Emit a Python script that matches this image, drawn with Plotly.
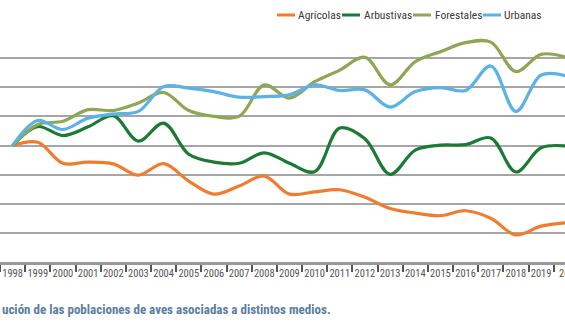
import plotly.graph_objects as go

years = [str(y) for y in range(1998, 2021)]
agricolas = [100, 101.1, 93.9, 94.3, 93.7, 89.8, 93.8, 87.8, 83.3, 86.1, 89.5, 83.3, 84.1, 84.8, 82.2,
             78.4, 76.8, 75.9, 77.6, 75.0, 69.3, 72.3, 73.5]
arbustivas = [100, 106.5, 103.4, 106.4, 110.2, 101.5, 107.7, 97.0, 94.3, 93.9, 97.5, 93.9, 91.0, 106.0, 102.3,
              90.1, 98.4, 100.1, 100.3, 102.6, 90.9, 99.2, 99.8]
forestales = [100, 107.2, 108.3, 112.3, 112.0, 114.6, 118.2, 112.0, 110.0, 110.0, 120.8, 116.3, 121.9, 125.9, 130.3,
              120.8, 128.8, 132.2, 135.3, 135.5, 125.4, 131.3, 130.3]
urbanas = [100, 108.6, 105.5, 109.4, 110.8, 111.7, 120.2, 119.7, 118.5, 116.6, 116.8, 117.4, 120.8, 118.9, 119.1,
           113.2, 118.5, 119.9, 118.9, 127.3, 111.7, 124.2, 123.9]

names = ["Agrícolas", "Arbustivas", "Forestales", "Urbanas"]
colors = ["#F07D2E", "#1C7A35", "#8DA755", "#5BB2E6"]
series = [agricolas, arbustivas, forestales, urbanas]

caption = "ución de las poblaciones de aves asociadas a distintos medios."

FONT = "Roboto Condensed, DejaVu Sans Condensed, sans-serif"
W, H = 565, 325
TOP, BOT = 29, 262

fig = go.Figure()
for n, c, s in zip(names, colors, series):
    fig.add_trace(go.Scatter(x=years, y=s, name=n, mode="lines",
                             line=dict(color=c, width=3.2, shape="spline", smoothing=1.0),
                             showlegend=False))

def px_x(p):
    return p / W

def px_y(p):
    return (BOT - p) / (BOT - TOP)

# manual legend
leg_line_x = [277, 342, 413, 483]
leg_text_x = [296, 362, 433, 502]
ly = 15
for n, c, lx, tx in zip(names, colors, leg_line_x, leg_text_x):
    fig.add_shape(type="line", xref="paper", yref="paper",
                  x0=px_x(lx), x1=px_x(lx + 18), y0=px_y(ly), y1=px_y(ly),
                  line=dict(color=c, width=3))
    fig.add_annotation(xref="paper", yref="paper", x=px_x(tx), y=px_y(ly),
                       text=n, showarrow=False, xanchor="left", yanchor="middle",
                       font=dict(family=FONT, size=11.5, color="#3a3a3a"))

# partially visible last label
fig.add_annotation(xref="paper", yref="paper", x=px_x(557), y=px_y(273),
                   text="2020", showarrow=False, xanchor="left", yanchor="middle",
                   font=dict(family=FONT, size=10.5, color="#555555"))

fig.add_annotation(xref="paper", yref="paper", x=0, y=px_y(309),
                   text="<b>" + caption + "</b>", showarrow=False, xanchor="left", yanchor="middle",
                   font=dict(family=FONT, size=13, color="#5B7EA3"))

fig.update_xaxes(type="category", range=[-0.5, 21.95], showgrid=False,
                 tickson="boundaries", ticks="outside", ticklen=7, tickwidth=1.5, tickcolor="#555555",
                 tickangle=0,
                 showline=True, linecolor="#999999", linewidth=2.5,
                 tickfont=dict(family=FONT, size=10.5, color="#555555"))
fig.update_yaxes(range=[60, 140], dtick=10, showticklabels=False, showgrid=True,
                 gridcolor="#A6A6A6", gridwidth=2, zeroline=False, showline=False)

fig.update_layout(width=W, height=H, margin=dict(l=0, r=0, t=TOP, b=H - BOT),
                  paper_bgcolor="white", plot_bgcolor="white")

fig.write_html("out.html")
